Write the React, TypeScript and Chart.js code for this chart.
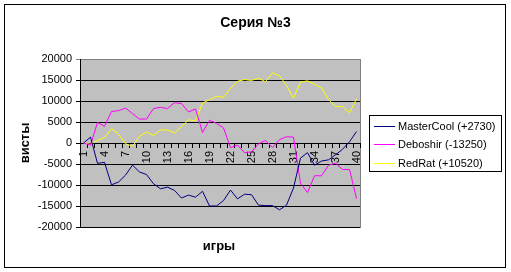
import React, { useEffect, useRef } from "react";
import { Chart, registerables } from "chart.js";

Chart.register(...registerables);

const chartTitle = "Серия №3";
const yAxisTitle = "висты";
const xAxisTitle = "игры";

const games = [
  "1", "2", "3", "4", "5", "6", "7", "8", "9", "10",
  "11", "12", "13", "14", "15", "16", "17", "18", "19", "20",
  "21", "22", "23", "24", "25", "26", "27", "28", "29", "30",
  "31", "32", "33", "34", "35", "36", "37", "38", "39", "40",
];

const seriesNames = ["MasterCool", "Deboshir", "RedRat"];

const masterCool = [
  0, 1400, -4850, -4600, -9950, -9300, -7650, -5250, -6900, -7500,
  -9700, -10900, -10500, -11300, -13100, -12400, -12900, -11500, -15000, -15000,
  -13700, -11200, -13300, -12200, -12300, -14800, -14900, -14900, -15900, -14800,
  -10700, -3600, -2300, -5300, -4300, -4000, -2800, -1500, 300, 2730,
];

const deboshir = [
  0, -500, 4900, 4000, 7500, 7700, 8300, 7000, 5700, 5700,
  8200, 8500, 8200, 9600, 9400, 7400, 8100, 2500, 5400, 4700,
  3600, -1100, -500, -2300, -2100, -200, 600, -1100, 800, 1500,
  1400, -9600, -11800, -7800, -7800, -5300, -4800, -6300, -6300, -13250,
];

const redRat = [
  0, -300, 600, 1300, 3400, 2100, -150, -800, 1600, 2600,
  1800, 3100, 3100, 2400, 3900, 5500, 5300, 9500, 10300, 11100,
  10900, 13000, 14700, 15100, 14900, 15400, 14600, 16700, 16000, 13700,
  10700, 14500, 14800, 14000, 13100, 10300, 8700, 8700, 7200, 10520,
];

const yMin = -20000;
const yMax = 20000;
const yStep = 5000;

const seriesColors = ["#000080", "#FF00FF", "#FFFF00"];
const FONT = '"Liberation Sans", Arial, sans-serif';

export default function App() {
  const canvasRef = useRef<HTMLCanvasElement | null>(null);

  useEffect(() => {
    const canvas = canvasRef.current;
    if (!canvas) return;
    const fmt = (v: number) => (v > 0 ? "+" : "") + String(v);
    const seriesData = [masterCool, deboshir, redRat];
    const datasets = seriesData.map((d, i) => ({
      label: `${seriesNames[i]} (${fmt(d[d.length - 1])})`,
      data: d,
      borderColor: seriesColors[i],
      backgroundColor: seriesColors[i],
      borderWidth: 1,
      pointRadius: 0,
      pointHoverRadius: 0,
      tension: 0,
      fill: false,
    }));

    const decor = {
      id: "decor",
      beforeDraw(chart: any) {
        const { ctx, chartArea: a } = chart;
        ctx.save();
        ctx.fillStyle = "#ffffff";
        ctx.fillRect(0, 0, chart.width, chart.height);
        ctx.strokeStyle = "#000000";
        ctx.lineWidth = 1;
        ctx.strokeRect(4.5, 4.5, 501, 263);
        ctx.fillStyle = "#C0C0C0";
        ctx.fillRect(a.left, a.top, a.right - a.left, a.bottom - a.top);
        ctx.strokeStyle = "#808080";
        ctx.strokeRect(a.left + 0.5, a.top + 0.5, a.right - a.left, a.bottom - a.top);
        ctx.restore();
      },
      afterDraw(chart: any) {
        const { ctx } = chart;
        ctx.save();
        ctx.fillStyle = "#000000";
        // title
        ctx.font = `bold 14px ${FONT}`;
        ctx.textAlign = "center";
        ctx.textBaseline = "alphabetic";
        ctx.fillText(chartTitle, 255.5, 27);
        // x axis title
        ctx.font = `bold 13px ${FONT}`;
        ctx.fillText(xAxisTitle, 219, 249.5);
        // y axis title
        ctx.save();
        ctx.translate(25, 143);
        ctx.rotate(-Math.PI / 2);
        ctx.textBaseline = "middle";
        ctx.fillText(yAxisTitle, 0, 0);
        ctx.restore();
        // legend
        ctx.strokeStyle = "#000000";
        ctx.lineWidth = 1;
        ctx.strokeRect(369.5, 115.5, 132, 56);
        ctx.font = `11px ${FONT}`;
        ctx.textAlign = "left";
        ctx.textBaseline = "middle";
        chart.data.datasets.forEach((ds: any, i: number) => {
          const y = Math.round(126 + i * 18.3) + 0.5;
          ctx.strokeStyle = ds.borderColor;
          ctx.beginPath();
          ctx.moveTo(374, y);
          ctx.lineTo(395, y);
          ctx.stroke();
          ctx.fillStyle = "#000000";
          ctx.fillText(ds.label, 398, y);
        });
        ctx.restore();
      },
    };

    const chart = new Chart(canvas, {
      type: "line",
      data: { labels: games, datasets },
      options: {
        animation: false,
        responsive: false,
        devicePixelRatio: 1,
        events: [],
        layout: { padding: { left: 0, top: 59, right: 151, bottom: 45 } },
        plugins: {
          legend: { display: false },
          title: { display: false },
          tooltip: { enabled: false },
        },
        scales: {
          x: {
            type: "category",
            position: { y: 0 },
            offset: true,
            grid: {
              offset: true,
              drawOnChartArea: false,
              drawTicks: true,
              tickLength: 4,
              color: "#000000",
            },
            border: { display: true, color: "#000000", width: 1 },
            ticks: {
              autoSkip: false,
              minRotation: 90,
              maxRotation: 90,
              padding: 4,
              color: "#000000",
              font: { family: FONT, size: 11 },
              callback: (_v: any, i: number) => (i % 3 === 0 ? games[i] : ""),
            },
          },
          y: {
            type: "linear",
            min: yMin,
            max: yMax,
            afterFit: (s: any) => {
              s.width = 80;
            },
            grid: {
              drawTicks: true,
              tickLength: 4,
              color: (c: any) => (c.tick && c.tick.value === yMax ? "#808080" : "#000000"),
            },
            border: { display: true, color: "#000000", width: 1 },
            ticks: {
              stepSize: yStep,
              padding: 4,
              color: "#000000",
              font: { family: FONT, size: 11 },
              callback: (v: any) => String(v),
            },
          },
        },
      },
      plugins: [decor],
    } as any);

    return () => chart.destroy();
  }, []);

  return (
    <div style={{ position: "absolute", left: 0, top: 0, width: 511, height: 272 }}>
      <canvas ref={canvasRef} width={511} height={272} />
    </div>
  );
}
